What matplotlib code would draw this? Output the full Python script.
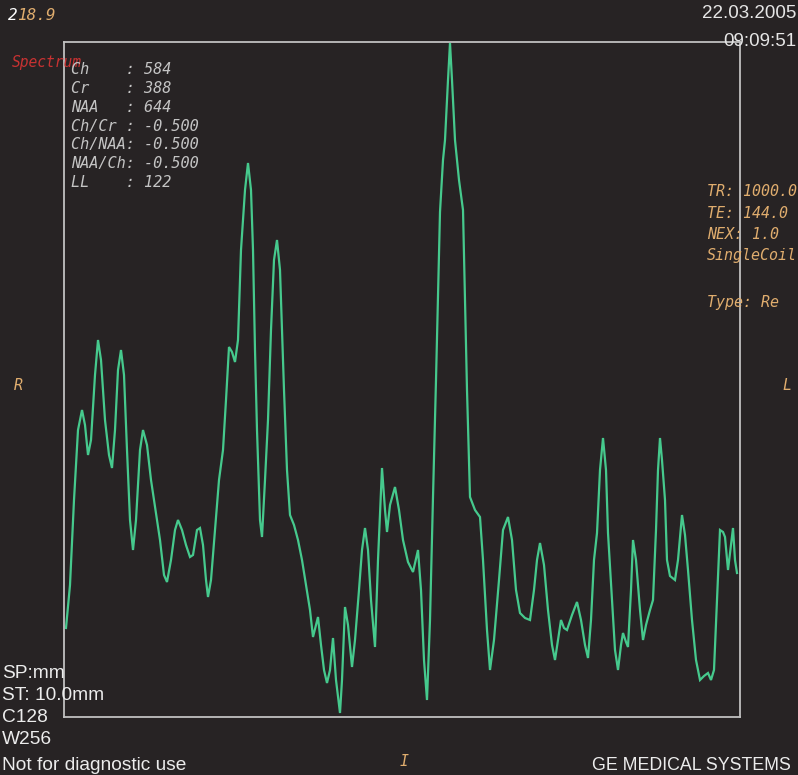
import matplotlib
matplotlib.use("Agg")
import matplotlib.pyplot as plt

# ---- spectrum data (channel position, signal amplitude) ----
channel = [
    66, 70, 74, 78, 82, 85, 88, 91, 95, 98,
    101, 105, 109, 112, 115, 118, 121, 124, 127, 130,
    133, 136, 140, 143, 147, 151, 156, 160, 164, 167,
    171, 175, 178, 182, 186, 190, 193, 197, 200, 203,
    206, 208, 211, 215, 219, 223, 226, 229, 232, 235,
    238, 241, 245, 248, 251, 253, 255, 257, 260, 262,
    265, 268, 271, 274, 277, 280, 282, 284, 287, 290,
    294, 298, 302, 306, 310, 313, 316, 318, 321, 324,
    327, 330, 333, 336, 340, 342, 345, 348, 352, 355,
    359, 362, 365, 368, 371, 375, 378, 382, 385, 387,
    390, 395, 399, 403, 408, 413, 418, 421, 424, 427,
    430, 433, 436, 440, 443, 445, 448, 450, 452, 455,
    459, 463, 465, 467, 470, 475, 480, 483, 487, 490,
    494, 499, 503, 508, 512, 516, 520, 525, 530, 534,
    537, 540, 544, 548, 552, 555, 558, 561, 564, 567,
    572, 577, 581, 585, 588, 591, 594, 597, 600, 603,
    606, 608, 612, 615, 618, 621, 623, 626, 628, 631,
    633, 636, 640, 643, 646, 650, 653, 656, 658, 660,
    662, 665, 667, 670, 675, 678, 682, 685, 688, 692,
    696, 700, 704, 708, 711, 714, 717, 720, 723, 725,
    728, 731, 733, 735, 737,
]
signal = [
    89, 132, 217, 287, 307, 292, 262, 277, 342, 377,
    357, 297, 262, 249, 287, 347, 367, 342, 267, 197,
    167, 197, 267, 287, 272, 237, 204, 177, 142, 135,
    157, 187, 197, 187, 172, 160, 162, 187, 189, 172,
    137, 120, 137, 187, 237, 267, 317, 370, 365, 355,
    377, 467, 527, 554, 527, 467, 367, 287, 197, 180,
    237, 297, 387, 457, 477, 447, 387, 327, 247, 202,
    192, 177, 157, 132, 107, 80, 92, 100, 72, 47,
    34, 47, 79, 37, 4, 37, 110, 92, 50, 77,
    127, 167, 189, 167, 117, 70, 157, 249, 207, 185,
    212, 230, 207, 177, 155, 145, 167, 127, 57, 17,
    97, 220, 337, 505, 557, 577, 637, 674, 637, 577,
    537, 507, 417, 327, 220, 207, 200, 157, 87, 47,
    77, 137, 187, 200, 177, 127, 104, 99, 97, 127,
    157, 174, 152, 107, 72, 57, 77, 97, 89, 87,
    102, 115, 97, 72, 59, 97, 157, 184, 247, 279,
    247, 184, 117, 67, 47, 72, 84, 75, 70, 127,
    177, 157, 107, 77, 92, 107, 117, 187, 247, 279,
    257, 217, 157, 141, 137, 157, 202, 182, 147, 97,
    57, 37, 41, 44, 37, 47, 117, 187, 185, 180,
    147, 172, 189, 157, 144,
]

# ---- text content ----
stat_lines = [
    "Ch    : 584",
    "Cr    : 388",
    "NAA   : 644",
    "Ch/Cr : -0.500",
    "Ch/NAA: -0.500",
    "NAA/Ch: -0.500",
    "LL    : 122",
]
param_lines = ["TR: 1000.0", "TE: 144.0", "NEX: 1.0", "SingleCoil"]
bottom_lines = ["SP:mm", "ST: 10.0mm", "C128", "W256", "Not for diagnostic use"]

BG = "#272324"
GREEN = "#46c98d"
ORANGE = "#e0ad6e"
GRAY = "#c4c4c4"
BOX = "#c0c0c0"

W, H = 798, 775
fig = plt.figure(figsize=(W / 100, H / 100), dpi=100, facecolor=BG)

# spectrum axes: box from x=64..740, y=42..717 (pixels)
L, R, T, B = 64, 740, 42, 717
ax = fig.add_axes([L / W, (H - B) / H, (R - L) / W, (B - T) / H])
ax.set_facecolor(BG)
ax.plot(channel, signal, color=GREEN, lw=1.6, solid_joinstyle="miter")
ax.set_xlim(L, R)
ax.set_ylim(0, B - T)
ax.set_xticks([])
ax.set_yticks([])
for s in ax.spines.values():
    s.set_color(BOX)
    s.set_linewidth(1.3)

# overlay for annotations in pixel coords
ov = fig.add_axes([0, 0, 1, 1], facecolor="none")
ov.set_xlim(0, W)
ov.set_ylim(H, 0)
ov.axis("off")

mono = "DejaVu Sans Mono"
sans = "Liberation Sans"

ov.text(8, 16, "2", color="white", fontsize=11.5, family=mono, style="italic", va="center")
ov.text(17, 16, "18.9", color=ORANGE, fontsize=11.5, family=mono, style="italic", va="center")

ov.text(796, 14, "22.03.2005", color="#e6e6e6", fontsize=13.5, family=sans, ha="right", va="center")
ov.text(796, 42, "09:09:51", color="#e6e6e6", fontsize=13.5, family=sans, ha="right", va="center")

ov.text(12, 63, "Spectrum", color="#c83232", fontsize=10.5, family=mono, style="italic", va="center")
for i, line in enumerate(stat_lines):
    ov.text(71, 70 + i * 18.7, line, color=GRAY, fontsize=11, family=mono,
            style="italic", va="center")

for i, line in enumerate(param_lines):
    ov.text(707, 192 + i * 21.3, line, color=ORANGE, fontsize=10.8, family=mono,
            style="italic", va="center")
ov.text(707, 302, "Type: Re", color=ORANGE, fontsize=10.8, family=mono, style="italic", va="center")

ov.text(14, 385, "R", color=ORANGE, fontsize=10.8, family=mono, style="italic", va="center")
ov.text(782, 385, "L", color=ORANGE, fontsize=10.8, family=mono, style="italic", va="center")
ov.text(400, 762, "I", color=ORANGE, fontsize=10.8, family=mono, style="italic", va="center")

bottom_y = [673, 695, 718, 740, 765]
for y, line in zip(bottom_y, bottom_lines):
    ov.text(2, y, line, color="#ececec", fontsize=13.8, family=sans, va="center")

ov.text(791, 765, "GE MEDICAL SYSTEMS", color="#ececec", fontsize=12.8, family=sans,
        ha="right", va="center")

fig.savefig("out.png", dpi=100, facecolor=BG)
